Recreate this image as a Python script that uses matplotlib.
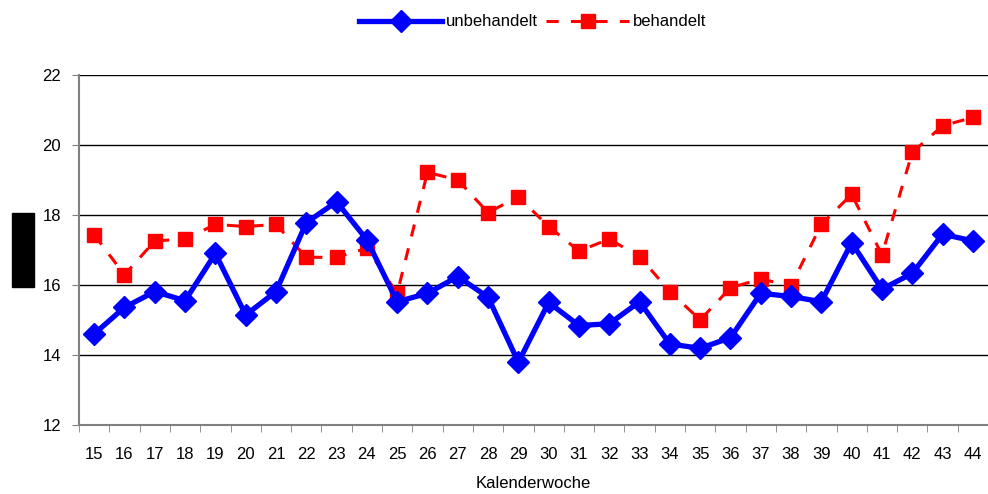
import numpy as np
import matplotlib.pyplot as plt
from matplotlib.patches import Rectangle

plt.rcParams['font.family'] = ['Liberation Sans', 'DejaVu Sans']

# Kalenderwochen
weeks = list(range(15, 45))

unbehandelt = [14.6, 15.36, 15.81, 15.55, 16.9, 15.14, 15.81, 17.78, 18.38, 17.29,
               15.52, 15.76, 16.24, 15.65, 13.79, 15.5, 14.84, 14.89, 15.52, 14.31,
               14.19, 14.49, 15.76, 15.67, 15.52, 17.21, 15.88, 16.33, 17.45, 17.26]
behandelt = [17.43, 16.29, 17.26, 17.31, 17.73, 17.67, 17.73, 16.79, 16.79, 17.05,
             15.76, 19.22, 19.0, 18.07, 18.52, 17.67, 16.97, 17.31, 16.81, 15.81,
             15.0, 15.92, 16.17, 15.98, 17.73, 18.59, 16.86, 19.79, 20.55, 20.79]

y_ticks = [12, 14, 16, 18, 20, 22]

fig = plt.figure(figsize=(9.88, 4.94), dpi=100)
ax = fig.add_axes([0.08, 0.14, 0.92, 0.708])

x = np.arange(len(weeks))

# Gridlines
for t in y_ticks[1:]:
    ax.axhline(t, color='black', linewidth=1, zorder=1)

ax.plot(x, unbehandelt, color='#0000FF', linewidth=3.8, marker='D',
        markersize=11, label='unbehandelt', zorder=3)
ax.plot(x, behandelt, color='#FF0000', linewidth=2.2, linestyle=(0, (4, 4)),
        marker='s', markersize=10, label='behandelt', zorder=2)

ax.set_xlim(-0.5, len(weeks) - 0.5)
ax.set_ylim(12, 22)
ax.set_yticks(y_ticks)
ax.set_yticklabels([str(t) for t in y_ticks], fontsize=12)

# Category labels sit between tick marks
ax.set_xticks(x)
ax.set_xticklabels([str(w) for w in weeks], fontsize=12)
ax.tick_params(axis='x', length=0, pad=16)
ax.set_xticks(np.arange(len(weeks) + 1) - 0.5, minor=True)
ax.tick_params(axis='x', which='minor', length=5, color='#808080', direction='out')
ax.tick_params(axis='y', length=5, color='#808080', direction='out', pad=8)

ax.set_xlabel('Kalenderwoche', fontsize=12, labelpad=10)

for side in ['top', 'right']:
    ax.spines[side].set_visible(False)
for side in ['left', 'bottom']:
    ax.spines[side].set_color('#808080')
    ax.spines[side].set_linewidth(1.5)

fig.legend(loc='center', bbox_to_anchor=(0.539, 1 - 22 / 494), ncol=2, frameon=False,
           fontsize=12, handlelength=5, columnspacing=0.5, handletextpad=0.2,
           borderaxespad=0)

# redacted y-axis label
fig.patches.append(Rectangle((12 / 988, 1 - 287 / 494), 22 / 988, 74 / 494,
                             transform=fig.transFigure, color='black'))

fig.savefig('out.png', dpi=100)
